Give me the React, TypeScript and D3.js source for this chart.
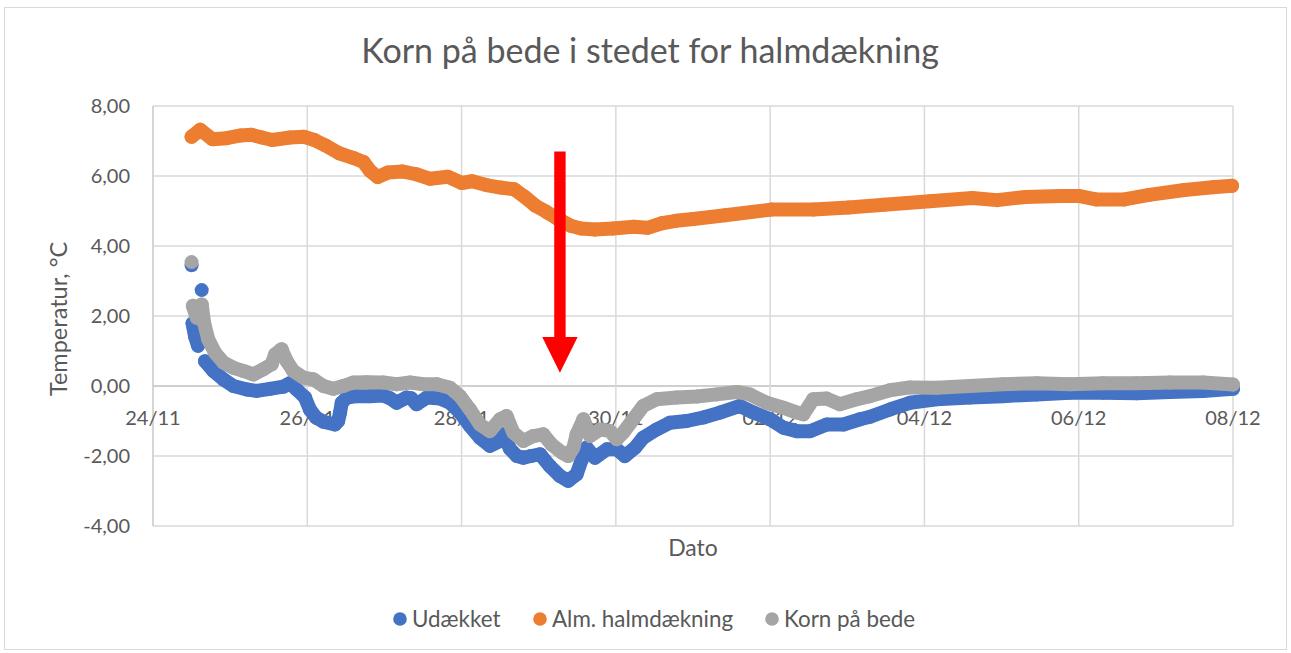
import React from 'react';
import * as d3 from 'd3';

const W = 1291;
const H = 653;

const startDate = new Date(2019, 10, 24, 0, 0, 0);
const HOUR = 3600 * 1000;

const title = 'Korn på bede i stedet for halmdækning';
const xTitle = 'Dato';
const yTitle = 'Temperatur, °C';

const seriesNames = ['Udækket', 'Alm. halmdækning', 'Korn på bede'];
const seriesColors = ['#4472C4', '#ED7D31', '#A5A5A5'];

// [hours since 24/11 00:00, °C]
const udaekket: [number, number][] = [
  [12.0, 3.45], [12.3, 1.79], [13.1, 1.41], [14.0, 1.15], [15.15, 2.74], [16.2, 0.71],
  [18.8, 0.43], [21.9, 0.19], [25.0, 0.0], [29.2, -0.1], [32.3, -0.14], [36.4, -0.08],
  [40.5, -0.02], [42.6, 0.08], [44.7, -0.1], [47.3, -0.33], [48.8, -0.67], [50.7, -0.9],
  [53.0, -1.02], [56.6, -1.1], [57.6, -1.0], [58.2, -0.76], [58.7, -0.48], [60.3, -0.33],
  [63.4, -0.29], [67.5, -0.29], [71.6, -0.27], [73.7, -0.35], [75.8, -0.48], [78.9, -0.33],
  [80.3, -0.35], [82.0, -0.52], [85.2, -0.33], [89.3, -0.36], [92.4, -0.48], [95.5, -0.76],
  [98.6, -1.14], [101.7, -1.48], [104.8, -1.71], [108.0, -1.57], [109.0, -1.38], [111.1, -1.8],
  [113.2, -2.0], [115.2, -2.05], [117.6, -2.0], [120.4, -1.95], [123.5, -2.29], [126.6, -2.57],
  [129.2, -2.71], [131.8, -2.52], [133.4, -2.1], [134.9, -1.76], [137.5, -2.05], [141.2, -1.81],
  [144.3, -1.81], [146.8, -2.0], [150.0, -1.76], [152.5, -1.48], [156.7, -1.24], [160.8, -1.05],
  [166.0, -1.0], [171.2, -0.9], [176.4, -0.76], [182.6, -0.57], [186.8, -0.76], [192.0, -0.95],
  [196.1, -1.19], [200.3, -1.29], [204.4, -1.29], [209.6, -1.1], [214.8, -1.1], [220.0, -0.95],
  [223.1, -0.88], [229.3, -0.67], [235.5, -0.48], [243.8, -0.38], [254.2, -0.33], [264.4, -0.29],
  [274.9, -0.24], [285.3, -0.19], [295.6, -0.19], [306.0, -0.21], [316.4, -0.17], [326.7, -0.14],
  [336.0, -0.08],
];

const halmdaekning: [number, number][] = [
  [12.0, 7.12], [14.7, 7.32], [18.5, 7.05], [22.9, 7.08], [27.3, 7.16], [30.6, 7.18],
  [33.9, 7.1], [37.1, 7.03], [42.6, 7.1], [46.9, 7.12], [50.2, 7.03], [53.5, 6.88],
  [57.9, 6.65], [62.2, 6.52], [65.5, 6.4], [67.5, 6.15], [69.9, 5.97], [73.1, 6.1],
  [77.5, 6.13], [81.9, 6.05], [86.2, 5.92], [91.7, 5.98], [96.1, 5.8], [99.3, 5.85],
  [103.7, 5.74], [108.1, 5.67], [112.4, 5.62], [115.7, 5.4], [119.0, 5.15], [122.3, 4.98],
  [125.5, 4.8], [129.9, 4.58], [133.2, 4.5], [137.5, 4.47], [143.0, 4.5], [149.6, 4.55],
  [153.9, 4.52], [158.3, 4.65], [162.7, 4.72], [168.1, 4.77], [178.0, 4.88], [192.3, 5.04],
  [205.5, 5.04], [216.4, 5.1], [227.4, 5.18], [241.7, 5.28], [254.9, 5.37], [262.6, 5.31],
  [271.4, 5.4], [282.4, 5.43], [287.9, 5.43], [293.4, 5.33], [302.2, 5.33], [309.9, 5.46],
  [320.9, 5.6], [329.7, 5.68], [335.7, 5.72],
];

const kornPaaBede: [number, number][] = [
  [12.0, 3.54], [12.4, 2.29], [13.6, 1.95], [15.15, 2.33], [15.9, 1.8], [17.2, 1.33],
  [19.3, 0.95], [21.9, 0.67], [25.0, 0.52], [28.1, 0.43], [31.2, 0.33], [34.3, 0.48],
  [36.9, 0.62], [38.0, 0.9], [40.0, 1.05], [41.6, 0.71], [43.6, 0.43], [46.8, 0.24],
  [49.9, 0.19], [53.0, 0.0], [56.1, -0.08], [59.2, 0.0], [62.3, 0.1], [66.5, 0.11],
  [71.6, 0.1], [75.8, 0.05], [80.0, 0.1], [84.1, 0.05], [88.3, 0.05], [92.4, -0.05],
  [95.5, -0.29], [98.6, -0.67], [101.7, -1.1], [104.8, -1.29], [108.0, -0.95], [110.0, -0.86],
  [112.1, -1.33], [115.2, -1.57], [118.3, -1.43], [121.4, -1.38], [124.0, -1.67], [127.2, -1.9],
  [129.2, -2.0], [130.8, -1.76], [131.8, -1.38], [133.9, -0.95], [136.0, -1.43], [139.1, -1.24],
  [142.2, -1.29], [144.3, -1.52], [146.3, -1.33], [149.4, -0.95], [152.5, -0.57], [156.7, -0.38],
  [162.9, -0.33], [169.2, -0.3], [175.4, -0.24], [181.6, -0.17], [185.7, -0.24], [190.9, -0.48],
  [196.1, -0.62], [200.3, -0.76], [202.3, -0.81], [205.4, -0.38], [209.6, -0.36], [213.7, -0.52],
  [218.9, -0.38], [223.1, -0.29], [229.3, -0.12], [235.5, -0.04], [243.8, -0.05], [254.2, 0.0],
  [264.4, 0.05], [274.9, 0.08], [285.3, 0.05], [295.6, 0.08], [306.0, 0.08], [316.4, 0.1],
  [326.7, 0.1], [336.0, 0.04],
];

const allSeries = [udaekket, halmdaekning, kornPaaBede];

const xTickHours = [0, 48, 96, 144, 192, 240, 288, 336];
const xTickLabels = ['24/11', '26/11', '28/11', '30/11', '02/12', '04/12', '06/12', '08/12'];
const yTicks = [-4, -2, 0, 2, 4, 6, 8];
const yTickLabels = ['-4,00', '-2,00', '0,00', '2,00', '4,00', '6,00', '8,00'];

// annotation arrow (hour, top value, head base value, tip value)
const arrowHour = 126.6;
const arrowTop = 6.7;
const arrowHeadBase = 1.4;
const arrowTip = 0.38;

const FONT = 'Lato, "Open Sans", sans-serif';
const TEXT = '#595959';
const GRID = '#D9D9D9';
const R = 7;

const left = 153;
const right = 1233;
const top = 106;
const bottom = 526;

export default function App() {
  const x = d3
    .scaleTime()
    .domain([startDate, new Date(startDate.getTime() + 336 * HOUR)])
    .range([left, right]);
  const y = d3.scaleLinear().domain([-4, 8]).range([bottom, top]);
  const toDate = (h: number) => new Date(startDate.getTime() + h * HOUR);

  const line = d3
    .line<[number, number]>()
    .x((d) => x(toDate(d[0])))
    .y((d) => y(d[1]));

  // split into runs where consecutive markers jump apart vertically
  const runs = (data: [number, number][]) => {
    const out: [number, number][][] = [];
    let cur: [number, number][] = [];
    data.forEach((d, i) => {
      if (i > 0) {
        const p = data[i - 1];
        const dy = y(d[1]) - y(p[1]);
        if (Math.abs(dy) > 25) {
          out.push(cur);
          cur = [];
        }
      }
      cur.push(d);
    });
    out.push(cur);
    return out;
  };

  const ax = x(toDate(arrowHour));
  const shaftHalf = 5.7;
  const headHalf = 17.7;
  const arrowPts = [
    [ax - shaftHalf, y(arrowTop)],
    [ax + shaftHalf, y(arrowTop)],
    [ax + shaftHalf, y(arrowHeadBase)],
    [ax + headHalf, y(arrowHeadBase)],
    [ax, y(arrowTip)],
    [ax - headHalf, y(arrowHeadBase)],
    [ax - shaftHalf, y(arrowHeadBase)],
  ]
    .map((p) => p.join(','))
    .join(' ');

  const legendItems = [
    { cx: 400, tx: 412 },
    { cx: 540, tx: 552 },
    { cx: 772, tx: 784 },
  ];

  return (
    <div style={{ position: 'absolute', left: 0, top: 0 }}>
      <svg width={W} height={H} style={{ display: 'block', background: '#fff' }}>
        <rect x={4.5} y={7.5} width={1282} height={642} fill="#fff" stroke={GRID} strokeWidth={1} />
        <text x={650} y={63} textAnchor="middle" fontFamily={FONT} fontSize={34} fill={TEXT}>
          {title}
        </text>

        {/* gridlines */}
        {yTicks.map((t) => (
          <line
            key={'hy' + t}
            x1={left}
            x2={right}
            y1={y(t)}
            y2={y(t)}
            stroke={t === 0 ? '#BFBFBF' : GRID}
            strokeWidth={1.5}
          />
        ))}
        {xTickHours.map((h) => (
          <line
            key={'vx' + h}
            x1={x(toDate(h))}
            x2={x(toDate(h))}
            y1={top}
            y2={bottom}
            stroke={h === 0 ? '#C8C8C8' : GRID}
            strokeWidth={1.5}
          />
        ))}

        {/* y tick labels */}
        {yTicks.map((t, i) => (
          <text
            key={'yl' + t}
            x={130}
            y={y(t)}
            dy="0.35em"
            textAnchor="end"
            fontFamily={FONT}
            fontSize={20}
            fill={TEXT}
          >
            {yTickLabels[i]}
          </text>
        ))}
        {/* x tick labels at zero crossing */}
        {xTickHours.map((h, i) => (
          <text
            key={'xl' + h}
            x={x(toDate(h))}
            y={y(0) + 38.5}
            textAnchor="middle"
            fontFamily={FONT}
            fontSize={20}
            fill={TEXT}
          >
            {xTickLabels[i]}
          </text>
        ))}

        {/* series */}
        {allSeries.map((data, si) => (
          <g key={'s' + si}>
            {runs(data)
              .filter((r) => r.length > 1)
              .map((r, ri) => (
                <path
                  key={ri}
                  d={line(r) || ''}
                  fill="none"
                  stroke={seriesColors[si]}
                  strokeWidth={R * 2}
                  strokeLinejoin="round"
                  strokeLinecap="round"
                />
              ))}
            {data.map((d, i) => (
              <circle key={i} cx={x(toDate(d[0]))} cy={y(d[1])} r={R} fill={seriesColors[si]} />
            ))}
          </g>
        ))}

        {/* annotation arrow */}
        <polygon points={arrowPts} fill="#FF0000" />

        {/* axis titles */}
        <text
          x={(left + right) / 2}
          y={556}
          textAnchor="middle"
          fontFamily={FONT}
          fontSize={23}
          fill={TEXT}
        >
          {xTitle}
        </text>
        <text
          transform={`translate(67,${(top + bottom) / 2 + 3}) rotate(-90)`}
          textAnchor="middle"
          fontFamily={FONT}
          fontSize={23.5}
          fill={TEXT}
        >
          {yTitle}
        </text>

        {/* legend */}
        {seriesNames.map((n, i) => (
          <g key={'lg' + i}>
            <circle cx={legendItems[i].cx} cy={619} r={6.8} fill={seriesColors[i]} />
            <text x={legendItems[i].tx} y={627} fontFamily={FONT} fontSize={22.4} fill={TEXT}>
              {n}
            </text>
          </g>
        ))}
      </svg>
    </div>
  );
}
